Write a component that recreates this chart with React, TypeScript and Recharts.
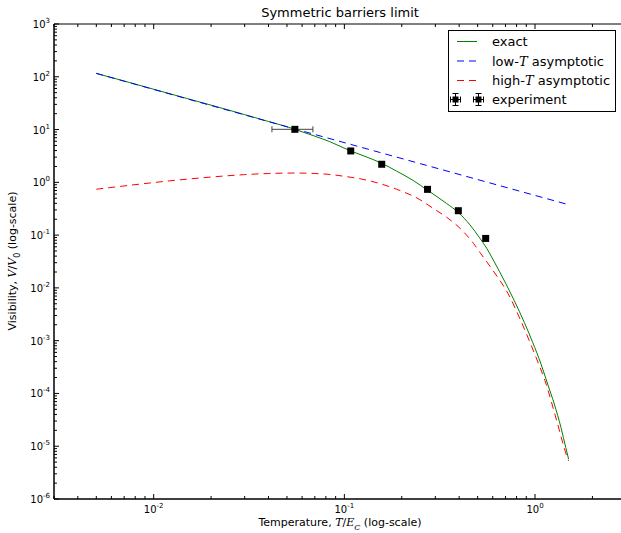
import React from 'react';
import { ComposedChart, Line, Scatter, XAxis, YAxis, ErrorBar, ReferenceArea } from 'recharts';

// exact curve
const exactT = [0.005, 0.0075, 0.01, 0.015, 0.02, 0.03, 0.04, 0.05, 0.055, 0.07, 0.0839, 0.107, 0.13, 0.157, 0.188, 0.23, 0.272, 0.344, 0.396, 0.456, 0.514, 0.558, 0.604, 0.704, 0.778, 0.878, 0.972, 1.075, 1.165, 1.262, 1.368, 1.45, 1.5];
const exactV = [116, 77.5, 58, 38.6, 29, 19.2, 14.2, 11.3, 10.1, 7.5, 5.89, 3.98, 3.05, 2.3, 1.63, 1.08, 0.716, 0.397, 0.269, 0.156, 0.0871, 0.0562, 0.0338, 0.0119, 0.00575, 0.00223, 9.3e-4, 3.6e-4, 1.5e-4, 6.3e-5, 2.26e-5, 9.4e-6, 5.7e-6];

// low-T asymptotic (straight on log-log)
const lowT = [0.005, 0.05, 0.5, 1.5];
const lowV = [116, 11.3, 1.13, 0.377];

// high-T asymptotic
const highT = [0.005, 0.0075, 0.01, 0.015, 0.02, 0.03, 0.04, 0.055, 0.07, 0.084, 0.1, 0.125, 0.15, 0.188, 0.249, 0.292, 0.344, 0.404, 0.475, 0.514, 0.593, 0.739, 0.834, 1.02, 1.128, 1.3, 1.466, 1.5];
const highV = [0.74, 0.88, 0.99, 1.15, 1.26, 1.4, 1.47, 1.5, 1.47, 1.41, 1.3, 1.14, 0.97, 0.74, 0.47, 0.322, 0.218, 0.135, 0.07, 0.047, 0.023, 0.00665, 0.00258, 4.5e-4, 1.74e-4, 3.03e-5, 6.6e-6, 5.3e-6];

// experiment points
const expT = [0.055, 0.108, 0.157, 0.273, 0.396, 0.551];
const expV = [10.1, 3.93, 2.2, 0.736, 0.29, 0.0865];
const expErrT: (number[] | undefined)[] = [[0.0133, 0.0134], undefined, undefined, undefined, undefined, undefined];

const xDecades = [0.001, 0.01, 0.1, 1];
const yDecades = [1e-6, 1e-5, 1e-4, 1e-3, 1e-2, 1e-1, 1, 1e1, 1e2];
const X_DOMAIN: [number, number] = [0.003, 3];
const Y_DOMAIN: [number, number] = [1e-6, 1e3];

const PLOT = { left: 54, right: 626, top: 24, bottom: 499 };
const W = 640;
const H = 533;
const FONT = '"DejaVu Sans", sans-serif';
const DASH = '7 5';

const exactData = exactT.map((t, i) => ({ t, v: exactV[i] }));
const lowData = lowT.map((t, i) => ({ t, v: lowV[i] }));
const highData = highT.map((t, i) => ({ t, v: highV[i] }));
const expData = expT.map((t, i) => ({ t, v: expV[i], ex: expErrT[i] }));

const withMinor = (decades: number[], lo: number, hi: number) => {
  const out: number[] = [];
  decades.forEach((d) => {
    [1, 2, 3, 4, 5, 6, 7, 8, 9].forEach((k) => {
      const v = +(k * d).toPrecision(6);
      if (v >= lo * 0.9999 && v <= hi * 1.0001) out.push(v);
    });
  });
  if (!out.includes(hi)) out.push(hi);
  return out;
};
const xTicks = withMinor(xDecades, X_DOMAIN[0], X_DOMAIN[1]);
const yTicks = withMinor(yDecades, Y_DOMAIN[0], Y_DOMAIN[1]);

const decadeExp = (v: number) => {
  const l = Math.log10(v);
  const e = Math.round(l);
  return Math.abs(l - e) < 1e-6 ? e : null;
};

const XTick = (props: any) => {
  const { x, payload } = props;
  const e = decadeExp(payload.value);
  const len = e !== null ? 5 : 3;
  return (
    <g>
      <line x1={x} y1={PLOT.bottom} x2={x} y2={PLOT.bottom - len} stroke="#000" />
      <line x1={x} y1={PLOT.top} x2={x} y2={PLOT.top + len} stroke="#000" />
      {e !== null && (
        <text x={x} y={PLOT.bottom + 14} textAnchor="middle" fontSize={10} fontFamily={FONT} fill="#000">
          10<tspan dy={-5} fontSize={7}>{e}</tspan>
        </text>
      )}
    </g>
  );
};

const YTick = (props: any) => {
  const { y, payload } = props;
  const e = decadeExp(payload.value);
  const len = e !== null ? 5 : 3;
  return (
    <g>
      <line x1={PLOT.left} y1={y} x2={PLOT.left + len} y2={y} stroke="#000" />
      <line x1={PLOT.right} y1={y} x2={PLOT.right - len} y2={y} stroke="#000" />
      {e !== null && (
        <text x={PLOT.left - 4} y={y + 4} textAnchor="end" fontSize={10} fontFamily={FONT} fill="#000">
          10<tspan dy={-5} fontSize={7}>{e}</tspan>
        </text>
      )}
    </g>
  );
};

const SquareMark = (props: any) => {
  const { cx, cy } = props;
  return <rect x={cx - 3.5} y={cy - 3.5} width={7} height={7} fill="#000" />;
};

const mathIt: React.CSSProperties = { fontFamily: '"DejaVu Serif", serif', fontStyle: 'italic' };

const ErrMark = ({ cx, cy }: { cx: number; cy: number }) => (
  <g stroke="#000" strokeWidth={1}>
    <line x1={cx - 5} y1={cy} x2={cx + 5} y2={cy} />
    <line x1={cx - 5} y1={cy - 3} x2={cx - 5} y2={cy + 3} />
    <line x1={cx + 5} y1={cy - 3} x2={cx + 5} y2={cy + 3} />
    <line x1={cx} y1={cy - 6} x2={cx} y2={cy + 6} />
    <line x1={cx - 3} y1={cy - 6} x2={cx + 3} y2={cy - 6} />
    <line x1={cx - 3} y1={cy + 6} x2={cx + 3} y2={cy + 6} />
    <rect x={cx - 3} y={cy - 3} width={6} height={6} fill="#000" stroke="none" />
  </g>
);

const LegendBox = () => {
  const rowY = [12, 31.5, 51, 70];
  return (
    <svg width={170} height={84} style={{ position: 'absolute', left: 447, top: 29 }}>
      <rect x={1.5} y={1.5} width={167} height={81} fill="#fff" stroke="#000" strokeWidth={1} />
      <line x1={10} y1={rowY[0] + 0.5} x2={30} y2={rowY[0] + 0.5} stroke="#008000" strokeWidth={1} />
      <line x1={10} y1={rowY[1] + 0.5} x2={30} y2={rowY[1] + 0.5} stroke="#0000ff" strokeWidth={1} strokeDasharray={DASH} />
      <line x1={10} y1={rowY[2] + 0.5} x2={30} y2={rowY[2] + 0.5} stroke="#ff0000" strokeWidth={1} strokeDasharray={DASH} />
      <ErrMark cx={8.5} cy={rowY[3] + 0.5} />
      <ErrMark cx={31.5} cy={rowY[3] + 0.5} />
      <g fontFamily={FONT} fontSize={13} fill="#000">
        <text x={45} y={rowY[0] + 5}>exact</text>
        <text x={45} y={rowY[1] + 5}>
          low-<tspan fontFamily='"DejaVu Serif", serif' fontStyle="italic">T</tspan> asymptotic
        </text>
        <text x={45} y={rowY[2] + 5}>
          high-<tspan fontFamily='"DejaVu Serif", serif' fontStyle="italic">T</tspan> asymptotic
        </text>
        <text x={45} y={rowY[3] + 5}>experiment</text>
      </g>
    </svg>
  );
};

export default function App() {
  return (
    <div style={{ position: 'fixed', left: 0, top: 0, width: 621, height: 533, overflow: 'hidden', background: '#fff' }}>
      <ComposedChart width={W} height={H} margin={{ top: PLOT.top, right: W - PLOT.right, bottom: 0, left: 0 }}>
        <XAxis
          dataKey="t"
          type="number"
          scale="log"
          domain={X_DOMAIN}
          allowDataOverflow
          ticks={xTicks}
          interval={0}
          tickLine={false}
          axisLine={{ stroke: '#000' }}
          tick={<XTick />}
          height={H - PLOT.bottom}
        />
        <YAxis
          dataKey="v"
          type="number"
          scale="log"
          domain={Y_DOMAIN}
          allowDataOverflow
          ticks={yTicks}
          interval={0}
          tickLine={false}
          axisLine={{ stroke: '#000' }}
          tick={<YTick />}
          width={PLOT.left}
        />
        <ReferenceArea x1={X_DOMAIN[0]} x2={X_DOMAIN[1]} y1={Y_DOMAIN[0]} y2={Y_DOMAIN[1]} fill="none" stroke="#000" strokeWidth={1} />
        <Line data={exactData} dataKey="v" type="monotone" stroke="#008000" strokeWidth={1} dot={false} isAnimationActive={false} />
        <Line data={lowData} dataKey="v" type="linear" stroke="#0000ff" strokeWidth={1} strokeDasharray={DASH} dot={false} isAnimationActive={false} />
        <Line data={highData} dataKey="v" type="monotone" stroke="#ff0000" strokeWidth={1} strokeDasharray={DASH} dot={false} isAnimationActive={false} />
        <Scatter data={expData} dataKey="v" shape={<SquareMark />} isAnimationActive={false}>
          <ErrorBar dataKey="ex" direction="x" width={3} stroke="#444" strokeWidth={1} />
        </Scatter>
      </ComposedChart>
      <div style={{ position: 'absolute', left: 340, top: 12, transform: 'translate(-50%, -50%)', fontFamily: FONT, fontSize: 13, whiteSpace: 'nowrap' }}>
        Symmetric barriers limit
      </div>
      <div style={{ position: 'absolute', left: 340, top: 524, transform: 'translate(-50%, -50%)', fontFamily: FONT, fontSize: 11, whiteSpace: 'nowrap' }}>
        Temperature, <span style={mathIt}>T</span>/<span style={mathIt}>E</span><sub style={{ ...mathIt, fontSize: 8 }}>C</sub> (log-scale)
      </div>
      <div style={{ position: 'absolute', left: 14, top: 261, transform: 'translate(-50%, -50%) rotate(-90deg)', fontFamily: FONT, fontSize: 11, whiteSpace: 'nowrap' }}>
        Visibility, <span style={mathIt}>V</span>/<span style={mathIt}>V</span><sub style={{ fontSize: 8 }}>0</sub> (log-scale)
      </div>
      <LegendBox />
    </div>
  );
}
